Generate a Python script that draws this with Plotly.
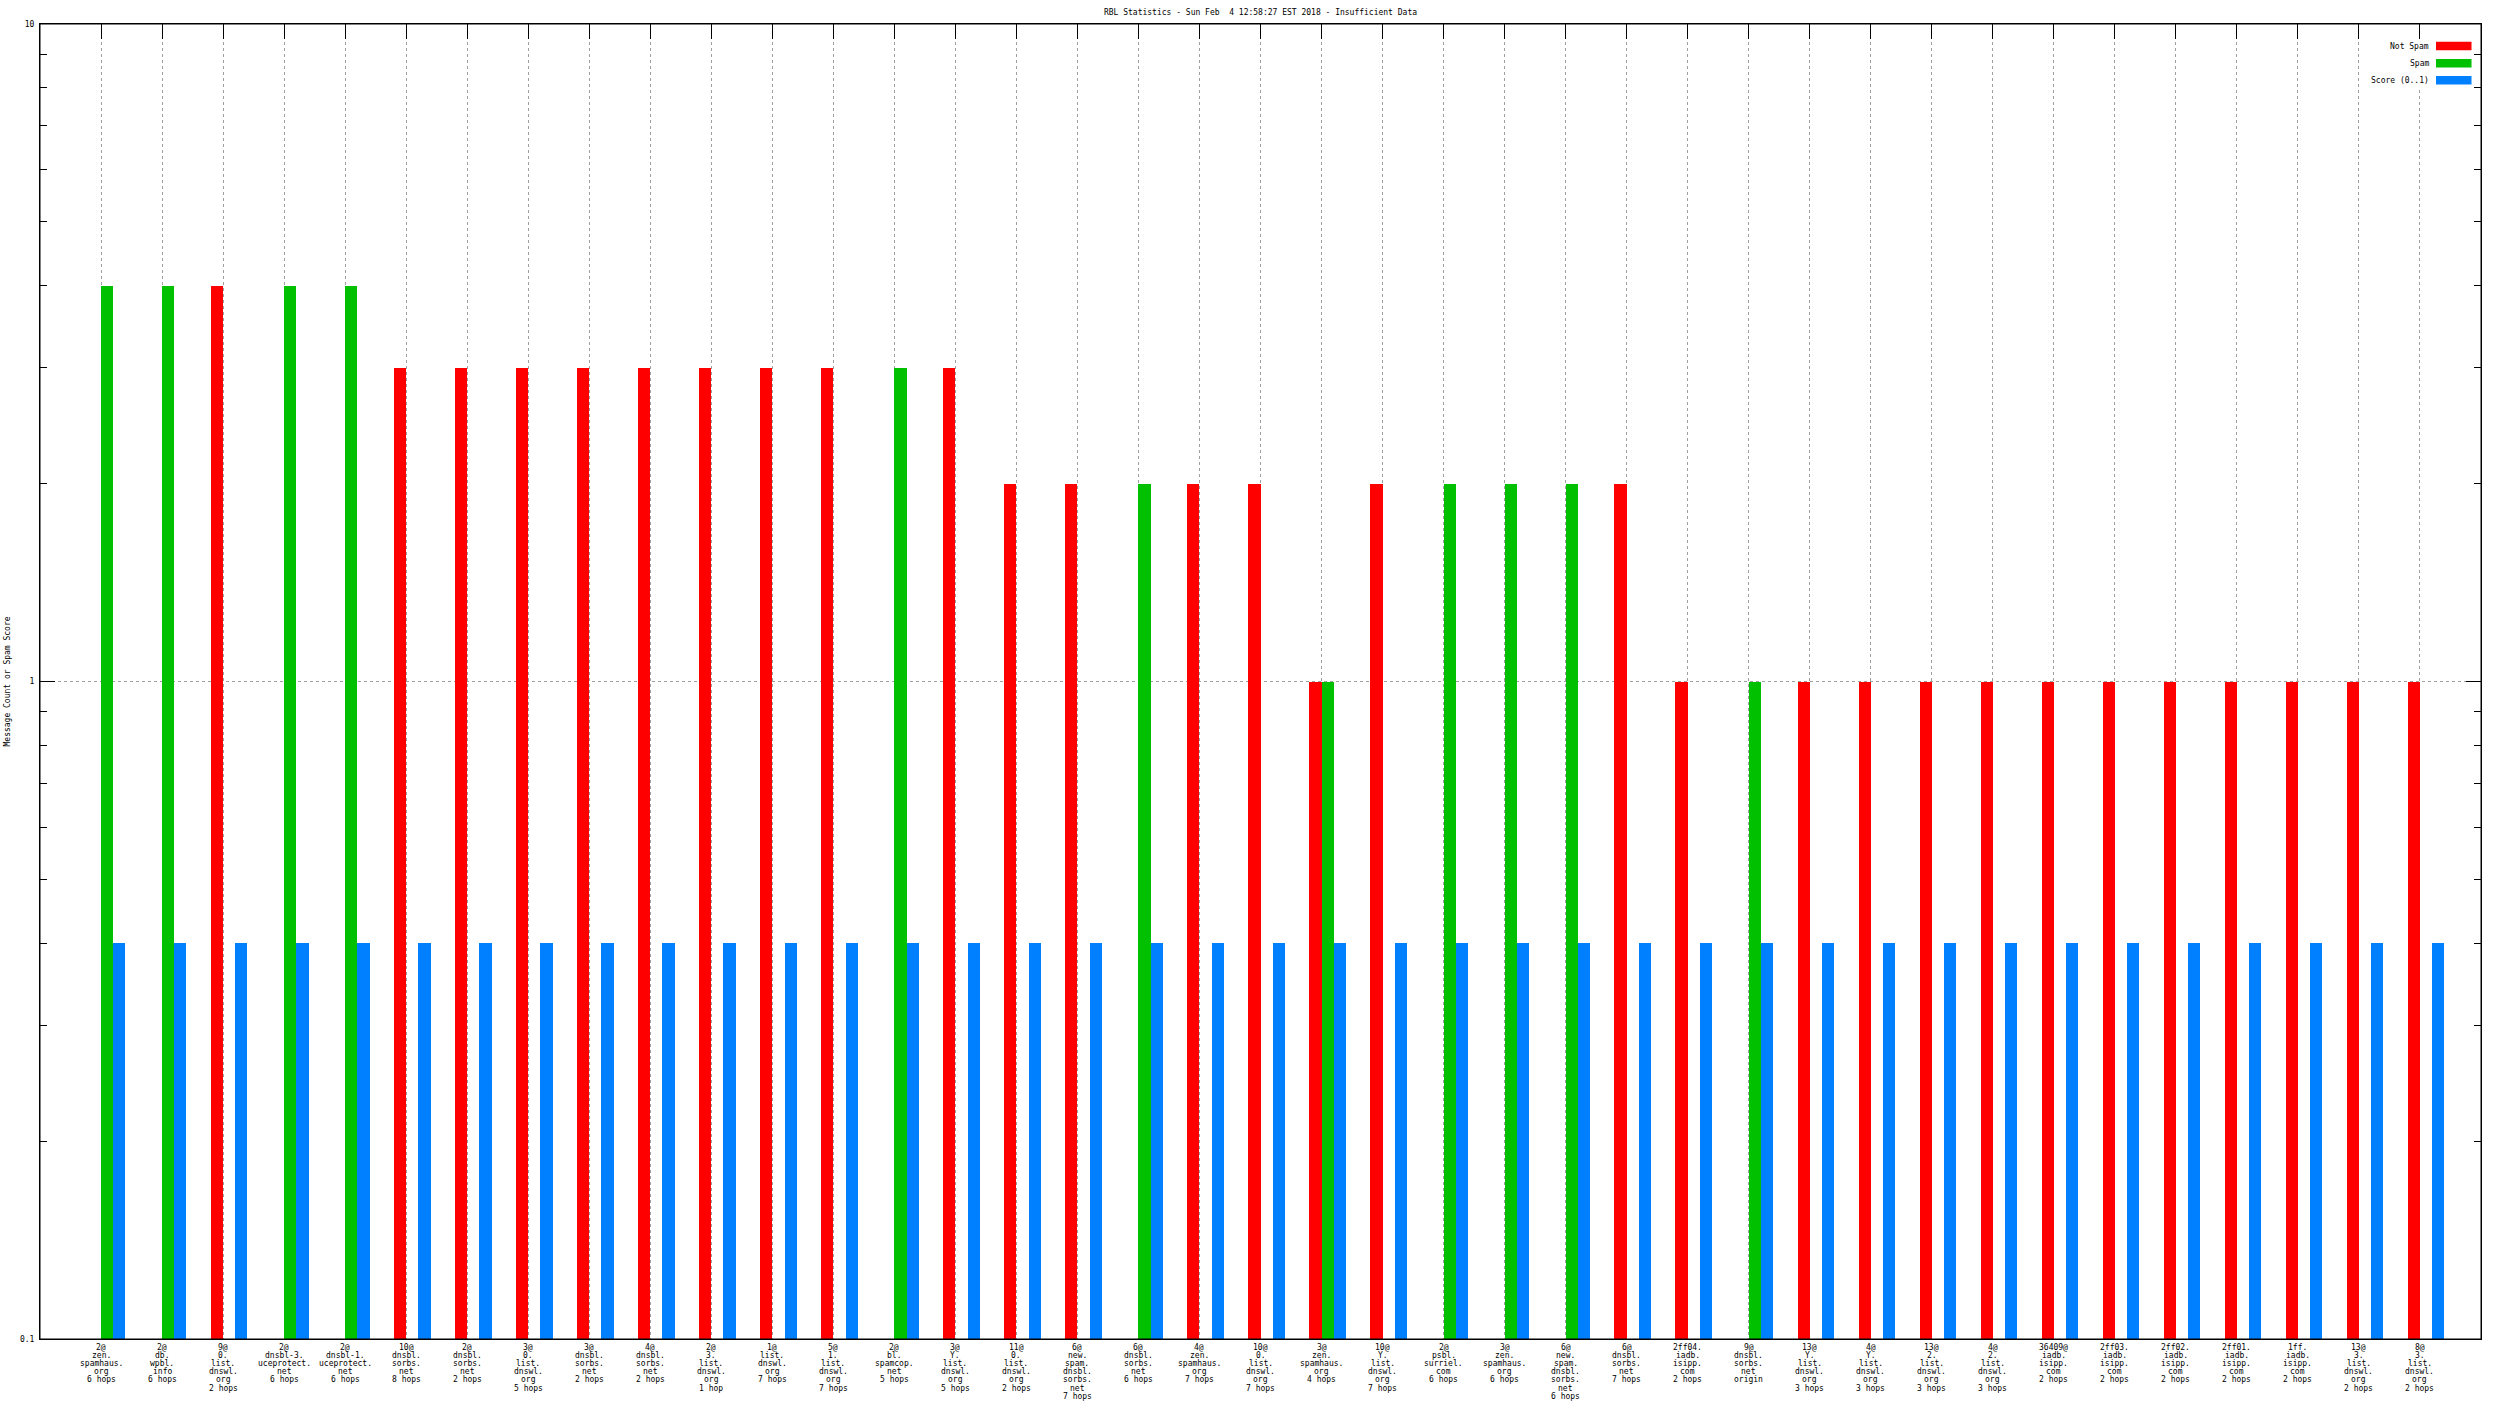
import plotly.graph_objects as go

# ---------------- data ----------------
labels = [
    "2@\nzen.\nspamhaus.\norg\n6 hops",
    "2@\ndb.\nwpbl.\ninfo\n6 hops",
    "9@\n0.\nlist.\ndnswl.\norg\n2 hops",
    "2@\ndnsbl-3.\nuceprotect.\nnet\n6 hops",
    "2@\ndnsbl-1.\nuceprotect.\nnet\n6 hops",
    "10@\ndnsbl.\nsorbs.\nnet\n8 hops",
    "2@\ndnsbl.\nsorbs.\nnet\n2 hops",
    "3@\n0.\nlist.\ndnswl.\norg\n5 hops",
    "3@\ndnsbl.\nsorbs.\nnet\n2 hops",
    "4@\ndnsbl.\nsorbs.\nnet\n2 hops",
    "2@\n3.\nlist.\ndnswl.\norg\n1 hop",
    "1@\nlist.\ndnswl.\norg\n7 hops",
    "5@\n1.\nlist.\ndnswl.\norg\n7 hops",
    "2@\nbl.\nspamcop.\nnet\n5 hops",
    "3@\nY.\nlist.\ndnswl.\norg\n5 hops",
    "11@\n0.\nlist.\ndnswl.\norg\n2 hops",
    "6@\nnew.\nspam.\ndnsbl.\nsorbs.\nnet\n7 hops",
    "6@\ndnsbl.\nsorbs.\nnet\n6 hops",
    "4@\nzen.\nspamhaus.\norg\n7 hops",
    "10@\n0.\nlist.\ndnswl.\norg\n7 hops",
    "3@\nzen.\nspamhaus.\norg\n4 hops",
    "10@\nY.\nlist.\ndnswl.\norg\n7 hops",
    "2@\npsbl.\nsurriel.\ncom\n6 hops",
    "3@\nzen.\nspamhaus.\norg\n6 hops",
    "6@\nnew.\nspam.\ndnsbl.\nsorbs.\nnet\n6 hops",
    "6@\ndnsbl.\nsorbs.\nnet\n7 hops",
    "2ff04.\niadb.\nisipp.\ncom\n2 hops",
    "9@\ndnsbl.\nsorbs.\nnet\norigin",
    "13@\nY.\nlist.\ndnswl.\norg\n3 hops",
    "4@\nY.\nlist.\ndnswl.\norg\n3 hops",
    "13@\n2.\nlist.\ndnswl.\norg\n3 hops",
    "4@\n2.\nlist.\ndnswl.\norg\n3 hops",
    "36409@\niadb.\nisipp.\ncom\n2 hops",
    "2ff03.\niadb.\nisipp.\ncom\n2 hops",
    "2ff02.\niadb.\nisipp.\ncom\n2 hops",
    "2ff01.\niadb.\nisipp.\ncom\n2 hops",
    "1ff.\niadb.\nisipp.\ncom\n2 hops",
    "13@\n3.\nlist.\ndnswl.\norg\n2 hops",
    "8@\n3.\nlist.\ndnswl.\norg\n2 hops",
]

not_spam = [None, None, 4, None, None, 3, 3, 3, 3, 3,
            3, 3, 3, None, 3, 2, 2, None, 2, 2,
            1, 2, None, None, None, 2, 1, None, 1, 1,
            1, 1, 1, 1, 1, 1, 1, 1, 1]
spam = [4, 4, None, 4, 4, None, None, None, None, None,
        None, None, None, 3, None, None, None, 2, None, None,
        1, None, 2, 2, 2, None, None, 1, None, None,
        None, None, None, None, None, None, None, None, None]
score = [0.4, 0.4, 0.4, 0.4, 0.4, 0.4, 0.4, 0.4, 0.4, 0.4,
         0.4, 0.4, 0.4, 0.4, 0.4, 0.4, 0.4, 0.4, 0.4, 0.4,
         0.4, 0.4, 0.4, 0.4, 0.4, 0.4, 0.4, 0.4, 0.4, 0.4,
         0.4, 0.4, 0.4, 0.4, 0.4, 0.4, 0.4, 0.4, 0.4]

series_names = ["Not Spam", "Spam", "Score (0..1)"]
series_colors = ["#ff0000", "#00c000", "#0080ff"]

y_tickvals = [0.1, 1, 10]
y_ticktext = ["0.1", "1", "10"]
y_minor = [0.2, 0.3, 0.4, 0.5, 0.6, 0.7, 0.8, 0.9, 2, 3, 4, 5, 6, 7, 8, 9]

title_text = "RBL Statistics - Sun Feb  4 12:58:27 EST 2018 - Insufficient Data"
ytitle_text = "Message Count or Spam Score"

positions = list(range(1, len(labels) + 1))

# ---------------- layout geometry ----------------
W, H = 2496, 1404
L, R, T, B = 40, 15, 24, 65
PW, PH = W - L - R, H - T - B
FONT = "DejaVu Sans Mono"


def px_x(p):
    return (p - L) / PW


def px_y(p):
    return (H - B - p) / PH


fig = go.Figure()
offsets = [-0.2, 0.0, 0.2]
for vals, name, col, off in zip([not_spam, spam, score], series_names, series_colors, offsets):
    fig.add_trace(go.Bar(
        x=positions, y=vals, name=name, width=0.2, offset=off,
        marker=dict(color=col, line=dict(width=0)), showlegend=False,
    ))

annotations = []
# x category labels (tight line spacing like gnuplot)
for pos, lab in zip(positions, labels):
    for j, line in enumerate(lab.split("\n")):
        annotations.append(dict(
            x=pos, xref="x", y=0, yref="paper", yanchor="middle", xanchor="center",
            yshift=-(8.0 + 8.2 * j), text=line, showarrow=False,
            font=dict(family=FONT, size=8, color="black"),
        ))

# y title
annotations.append(dict(
    x=px_x(7), xref="paper", y=0.5, yref="paper", xanchor="center", yanchor="middle",
    text=ytitle_text, textangle=-90, showarrow=False,
    font=dict(family=FONT, size=8, color="black"),
))

shapes = []
# opaque key box
shapes.append(dict(type="rect", xref="paper", yref="paper",
                   x0=px_x(2363), x1=px_x(2472), y0=px_y(40), y1=px_y(89),
                   fillcolor="white", line=dict(width=0), layer="above"))
legend_rows_y = [46, 63.3, 80.3]
for name, col, yc in zip(series_names, series_colors, legend_rows_y):
    annotations.append(dict(
        x=px_x(2431), xref="paper", y=px_y(yc), yref="paper", xanchor="right", yanchor="middle",
        text=name, showarrow=False, font=dict(family=FONT, size=8, color="black"),
    ))
    shapes.append(dict(type="rect", xref="paper", yref="paper",
                       x0=px_x(2436), x1=px_x(2471.5), y0=px_y(yc - 4.3), y1=px_y(yc + 4.3),
                       fillcolor=col, line=dict(width=0), layer="above"))
# frame
shapes.append(dict(type="rect", xref="paper", yref="paper", x0=0, x1=1, y0=0, y1=1,
                   line=dict(color="black", width=1), fillcolor="rgba(0,0,0,0)", layer="above"))

fig.update_layout(
    width=W, height=H, autosize=False,
    margin=dict(l=L, r=R, t=T, b=B, pad=0),
    paper_bgcolor="white", plot_bgcolor="white",
    barmode="overlay", bargap=0,
    showlegend=False,
    title=dict(text=title_text, x=0.5, xref="paper", xanchor="center",
               y=1 - 12 / H, yref="container", yanchor="middle",
               font=dict(family=FONT, size=8, color="black")),
    annotations=annotations,
    shapes=shapes,
    xaxis=dict(
        range=[0, len(labels) + 1], side="top",
        tickmode="array", tickvals=positions, showticklabels=False,
        ticks="inside", ticklen=15, tickwidth=1, tickcolor="black",
        showline=True, linecolor="black", linewidth=1, mirror=True,
        showgrid=True, gridcolor="#a0a0a0", gridwidth=1, griddash="3px,3px",
        zeroline=False, layer="below traces", fixedrange=True,
    ),
    yaxis=dict(
        type="log", range=[-1, 1],
        tickmode="array", tickvals=y_tickvals, ticktext=y_ticktext,
        ticks="inside", ticklen=15, tickwidth=1, tickcolor="black",
        ticklabelstandoff=3,
        tickfont=dict(family=FONT, size=8, color="black"),
        minor=dict(tickmode="array", tickvals=y_minor, ticks="inside", ticklen=7,
                   tickwidth=1, tickcolor="black", showgrid=False),
        showline=True, linecolor="black", linewidth=1, mirror="ticks",
        showgrid=True, gridcolor="#a0a0a0", gridwidth=1, griddash="3px,3px",
        zeroline=False, layer="below traces", fixedrange=True,
    ),
    font=dict(family=FONT, size=8, color="black"),
)

fig.write_html("out.html",
               config={"displayModeBar": False, "staticPlot": False},
               post_script="document.body.style.margin='0';document.body.style.overflow='hidden';")
